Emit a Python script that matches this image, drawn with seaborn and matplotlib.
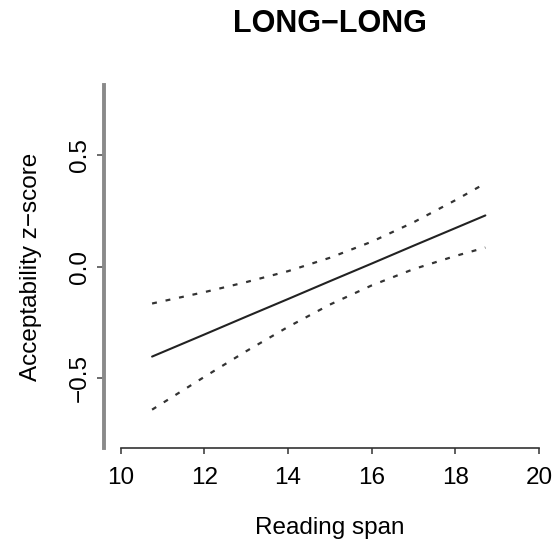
import matplotlib
matplotlib.use("Agg")
import matplotlib.pyplot as plt
import seaborn as sns
import pandas as pd

# ---- data ----
span = [10.75, 12, 13, 14, 15, 16, 17, 18, 18.72]
fit = [-0.404, -0.305, -0.225, -0.146, -0.066, 0.013, 0.093, 0.172, 0.229]
upper = [-0.166, -0.115, -0.070, -0.021, 0.039, 0.111, 0.198, 0.297, 0.373]
lower = [-0.642, -0.495, -0.380, -0.271, -0.171, -0.085, -0.012, 0.047, 0.085]
x_ticks = [10, 12, 14, 16, 18, 20]
y_ticks = [-0.5, 0.0, 0.5]
y_tick_labels = ["\u22120.5", "0.0", "0.5"]
title = "LONG\u2212LONG"
x_label = "Reading span"
y_label = "Acceptability z\u2212score"

df = pd.DataFrame({"span": span, "fit": fit, "upper": upper, "lower": lower})

sns.set_style("white")
plt.rcParams["font.family"] = ["Liberation Sans", "DejaVu Sans"]
plt.rcParams["text.color"] = "black"
plt.rcParams["axes.labelcolor"] = "black"
plt.rcParams["xtick.color"] = "black"
plt.rcParams["ytick.color"] = "black"

fig = plt.figure(figsize=(5.57, 5.43), dpi=100)
ax = fig.add_axes([104 / 557, 1 - 448 / 543, (555.6 - 104) / 557, (448 - 85) / 543])

sns.lineplot(data=df, x="span", y="fit", ax=ax, color="#222222", linewidth=1.5)
sns.lineplot(data=df, x="span", y="upper", ax=ax, color="#333333", linewidth=1.6)
sns.lineplot(data=df, x="span", y="lower", ax=ax, color="#333333", linewidth=1.6)
for ln in ax.lines[1:]:
    ln.set_dashes((2.2, 4.0))

ax.set_xlim(9.6, 20.4)
ax.set_ylim(-0.814, 0.814)

ax.set_xticks(x_ticks)
ax.set_xticklabels([str(v) for v in x_ticks], fontsize=17.5)
ax.set_yticks(y_ticks)
ax.set_yticklabels(y_tick_labels, fontsize=17.5, rotation=90, va="center")

for s in ["top", "right"]:
    ax.spines[s].set_visible(False)
ax.spines["left"].set_color("#8a8a8a")
ax.spines["left"].set_linewidth(2.8)
ax.spines["bottom"].set_color("#333333")
ax.spines["bottom"].set_linewidth(1.2)
ax.spines["bottom"].set_bounds(10, 20)

ax.tick_params(axis="x", direction="out", length=4.5, width=1.1, colors="black", pad=9.5, bottom=True)
ax.tick_params(axis="y", direction="out", length=5, width=1.1, colors="black", pad=4.5, left=True)
ax.tick_params(axis="y", color="#444444")
ax.tick_params(axis="x", color="#333333")

ax.set_xlabel(x_label, fontsize=17.5, labelpad=19.5)
ax.set_ylabel(y_label, fontsize=17.5, labelpad=19.5)
fig.text((104 + 555.6) / 2 / 557, 1 - 24 / 543, title, fontsize=22, fontweight="bold",
         ha="center", va="center")

fig.savefig("out.png", dpi=100)
